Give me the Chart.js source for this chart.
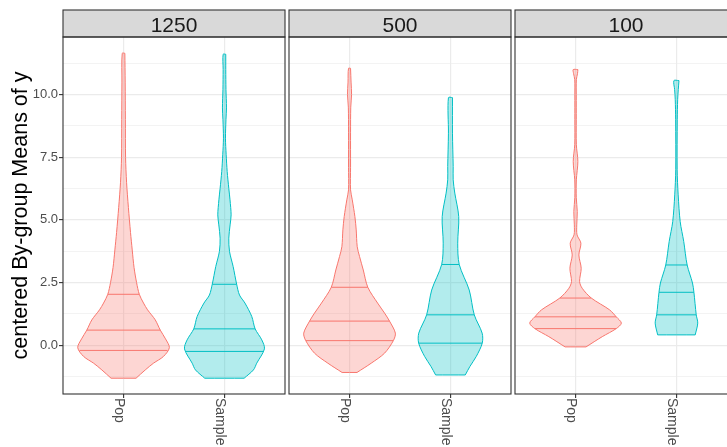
<!DOCTYPE html>
<html>
<head>
<meta charset="utf-8">
<script src="https://cdn.jsdelivr.net/npm/chart.js@4.4.1/dist/chart.umd.min.js"></script>
<style>
  body { margin: 0; background: #fff; overflow: hidden; }
  #wrap { position: relative; width: 727px; height: 447px; overflow: hidden; }
  canvas { position: absolute; top: 0; }
</style>
</head>
<body>
<div id="wrap">
  <canvas id="p0" width="287" height="447" style="left:0px"></canvas>
  <canvas id="p1" width="226" height="447" style="left:287px"></canvas>
  <canvas id="p2" width="226" height="447" style="left:513px"></canvas>
</div>
<script>
// facets and groups
const panels = ['1250', '500', '100'];
const groups = ['Pop', 'Sample'];
const yMajor = [0, 2.5, 5, 7.5, 10];
const yMinor = [-1.25, 1.25, 3.75, 6.25, 8.75, 11.25];
const yLimits = [-1.95, 12.3];

// violin outlines: y levels and half widths (category units), quantiles 25/50/75
const pop1250Y = [-1.32, -0.99, -0.72, -0.45, -0.1, 0.25, 0.6, 1.01, 1.41, 1.68, 2.03, 2.5, 3.1, 3.8, 4.5, 5.5, 6.5, 7.5, 9.0, 10.5, 11.65];
const pop1250W = [0.124, 0.215, 0.297, 0.396, 0.454, 0.416, 0.364, 0.314, 0.238, 0.198, 0.156, 0.129, 0.104, 0.086, 0.069, 0.048, 0.030, 0.020, 0.018, 0.016, 0.013];
const pop1250Q = [-0.21, 0.60, 2.03];

const sam1250Y = [-1.32, -0.99, -0.72, -0.15, 0.21, 0.65, 1.14, 1.68, 2.0, 2.43, 3.14, 3.74, 4.27, 4.8, 5.2, 5.8, 6.26, 6.93, 7.6, 8.26, 9.0, 9.47, 10.2, 11.0, 11.61];
const sam1250W = [0.195, 0.287, 0.320, 0.396, 0.370, 0.304, 0.271, 0.203, 0.149, 0.121, 0.086, 0.050, 0.043, 0.056, 0.066, 0.055, 0.043, 0.027, 0.017, 0.010, 0.015, 0.020, 0.015, 0.013, 0.013];
const sam1250Q = [-0.25, 0.65, 2.43];

const pop500Y = [-1.09, -0.72, -0.32, 0.18, 0.48, 0.96, 1.28, 1.68, 2.31, 3.0, 3.54, 3.93, 4.6, 5.13, 5.8, 6.2, 7.1, 8.5, 9.5, 10.0, 10.5, 11.05];
const pop500W = [0.074, 0.215, 0.347, 0.434, 0.454, 0.396, 0.347, 0.278, 0.181, 0.136, 0.099, 0.076, 0.066, 0.053, 0.027, 0.010, 0.010, 0.010, 0.012, 0.020, 0.015, 0.010];
const pop500Q = [0.18, 0.96, 2.31];

const sam500Y = [-1.19, -0.85, -0.45, 0.08, 0.48, 1.21, 2.2, 3.22, 4.07, 5.13, 6.07, 6.6, 7.13, 8.46, 9.88];
const sam500W = [0.147, 0.193, 0.256, 0.315, 0.314, 0.236, 0.186, 0.087, 0.072, 0.082, 0.043, 0.027, 0.027, 0.020, 0.020];
const sam500Q = [0.08, 1.21, 3.22];

const pop100Y = [-0.07, 0.34, 0.66, 0.88, 1.13, 1.41, 1.88, 2.27, 2.54, 3.07, 3.6, 4.07, 4.4, 4.8, 5.33, 5.9, 6.6, 7.33, 8.0, 9.0, 10.0, 10.6, 10.85, 11.0];
const pop100W = [0.104, 0.265, 0.403, 0.454, 0.403, 0.337, 0.156, 0.066, 0.040, 0.056, 0.033, 0.053, 0.015, 0.012, 0.017, 0.007, 0.008, 0.023, 0.008, 0.007, 0.007, 0.008, 0.020, 0.023];
const pop100Q = [0.66, 1.13, 1.88];

const sam100Y = [0.41, 0.88, 1.21, 2.11, 2.48, 3.2, 4.14, 4.93, 6.0, 7.0, 9.0, 9.8, 10.2, 10.56];
const sam100W = [0.186, 0.211, 0.196, 0.173, 0.159, 0.106, 0.072, 0.037, 0.017, 0.007, 0.008, 0.012, 0.018, 0.025];
const sam100Q = [1.21, 2.11, 3.20];

const violins = [
  [{y: pop1250Y, w: pop1250W, q: pop1250Q}, {y: sam1250Y, w: sam1250W, q: sam1250Q}],
  [{y: pop500Y, w: pop500W, q: pop500Q}, {y: sam500Y, w: sam500W, q: sam500Q}],
  [{y: pop100Y, w: pop100W, q: pop100Q}, {y: sam100Y, w: sam100W, q: sam100Q}]
];

const lineColors = ['#F8766D', '#00BFC4'];
const fillColors = ['rgba(248,118,109,0.3)', 'rgba(0,191,196,0.3)'];
const FONT = '"Liberation Sans", Arial, Helvetica, sans-serif';

Chart.defaults.font.family = FONT;

// closed outline, corners doubled so the flat ends stay straight
function outline(c, ys, ws) {
  const n = ys.length;
  const right = ys.map((y, i) => ({x: c + ws[i], y: y}));
  const left = ys.map((y, i) => ({x: c - ws[i], y: y})).reverse();
  return [right[0]].concat(right, [right[n - 1]], left, [left[n - 1], right[0], right[0]]);
}

function widthAt(ys, ws, q) {
  for (let i = 1; i < ys.length; i++) {
    if (q <= ys[i]) {
      const t = (q - ys[i - 1]) / (ys[i] - ys[i - 1]);
      return ws[i - 1] + t * (ws[i] - ws[i - 1]);
    }
  }
  return ws[ws.length - 1];
}

// strip, panel border and rotated category labels
const panelDeco = {
  id: 'panelDeco',
  afterDraw(chart, args, opts) {
    const ctx = chart.ctx;
    const a = chart.chartArea;
    const x = chart.scales.x;
    ctx.save();
    ctx.fillStyle = '#D9D9D9';
    ctx.fillRect(a.left, 10, a.right - a.left, a.top - 10);
    ctx.strokeStyle = '#333333';
    ctx.lineWidth = 1.1;
    ctx.strokeRect(a.left, 10, a.right - a.left, a.top - 10);
    ctx.strokeRect(a.left, a.top, a.right - a.left, a.bottom - a.top);

    ctx.fillStyle = '#1A1A1A';
    ctx.font = '21px ' + FONT;
    ctx.textAlign = 'center';
    ctx.textBaseline = 'alphabetic';
    ctx.fillText(opts.title, (a.left + a.right) / 2, 32);

    ctx.fillStyle = '#4D4D4D';
    ctx.font = '14px ' + FONT;
    ctx.textAlign = 'left';
    groups.forEach((g, i) => {
      const px = x.getPixelForValue(i + 1);
      ctx.save();
      ctx.translate(px - 8.3, a.bottom + 4);
      ctx.rotate(Math.PI / 2);
      ctx.fillText(g, 0, 0);
      ctx.restore();
    });
    ctx.restore();
  }
};

panels.forEach((name, p) => {
  const first = p === 0;
  const datasets = [];
  groups.forEach((g, i) => {
    const v = violins[p][i];
    const c = i + 1;
    v.q.forEach(q => {
      const w = widthAt(v.y, v.w, q);
      datasets.push({
        data: [{x: c - w, y: q}, {x: c + w, y: q}],
        borderColor: lineColors[i],
        borderWidth: 1,
        showLine: true,
        pointRadius: 0,
        fill: false
      });
    });
    datasets.push({
      label: g,
      data: outline(c, v.y, v.w),
      borderColor: lineColors[i],
      backgroundColor: fillColors[i],
      borderWidth: 1,
      showLine: true,
      pointRadius: 0,
      fill: 'shape',
      tension: 0.3
    });
  });

  new Chart(document.getElementById('p' + p), {
    type: 'scatter',
    data: { datasets: datasets },
    plugins: [panelDeco],
    options: {
      responsive: false,
      animation: false,
      devicePixelRatio: 1,
      layout: { padding: { left: first ? 0 : 2, right: 2, top: 37, bottom: 0 } },
      plugins: {
        legend: { display: false },
        tooltip: { enabled: false },
        panelDeco: { title: name }
      },
      scales: {
        x: {
          type: 'linear',
          min: 0.4,
          max: 2.6,
          afterBuildTicks: s => { s.ticks = groups.map((g, i) => ({value: i + 1})); },
          afterFit: s => { s.height = 53; },
          ticks: { display: false },
          border: { display: false },
          grid: {
            color: '#EBEBEB',
            lineWidth: 1.2,
            drawTicks: true,
            tickLength: 4,
            tickColor: '#333333',
            tickWidth: 1.1
          }
        },
        y: {
          type: 'linear',
          min: yLimits[0],
          max: yLimits[1],
          afterBuildTicks: s => {
            s.ticks = yMinor.concat(yMajor).sort((a, b) => a - b).map(v => ({value: v}));
          },
          afterFit: s => { s.width = first ? 63 : 0; },
          border: { display: false },
          ticks: {
            display: first,
            padding: 1,
            color: '#4D4D4D',
            font: { size: 13 },
            callback: v => yMajor.includes(v) ? v.toFixed(1) : ''
          },
          grid: {
            color: '#EBEBEB',
            lineWidth: c => yMajor.includes(c.tick.value) ? 1.2 : 0.6,
            drawTicks: first,
            tickLength: 4,
            tickWidth: 1.1,
            tickColor: c => yMajor.includes(c.tick.value) ? '#333333' : 'rgba(0,0,0,0)'
          },
          title: {
            display: first,
            text: 'centered By-group Means of y',
            color: '#000000',
            font: { size: 21.5 },
            padding: { top: 8, bottom: 0 }
          }
        }
      }
    }
  });
});
</script>
</body>
</html>
